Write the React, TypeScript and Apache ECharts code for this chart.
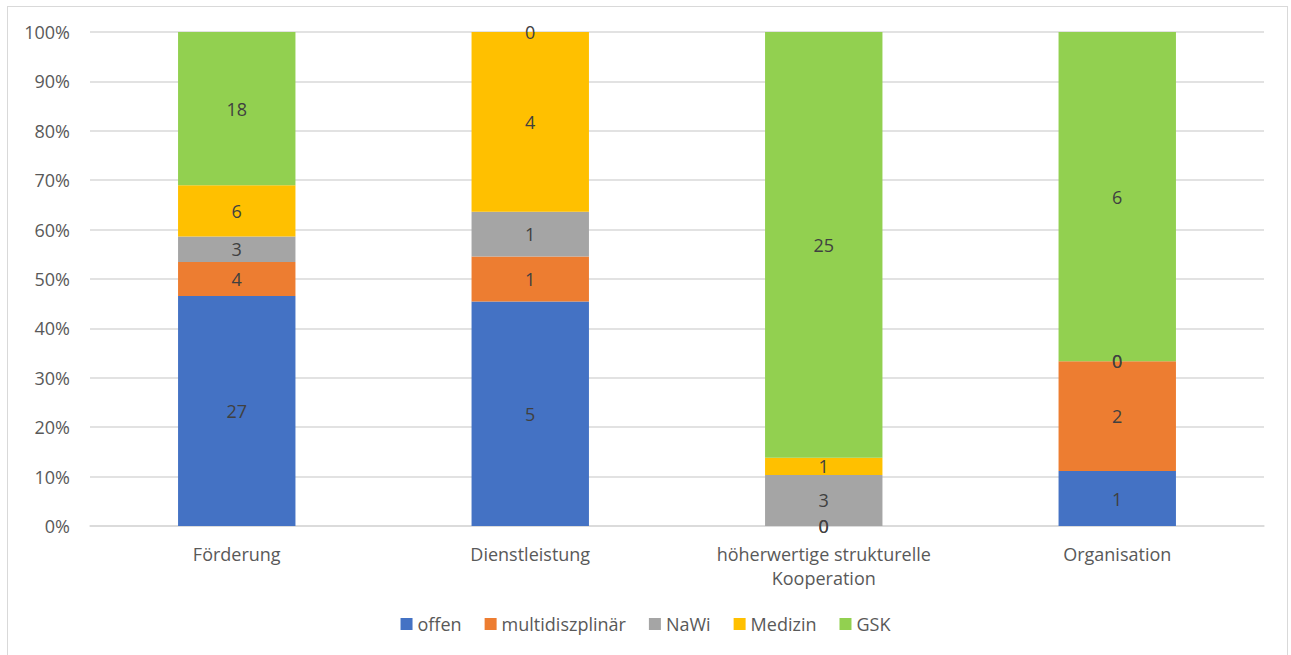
import React, { useEffect, useRef } from "react";
import * as echarts from "echarts";

// Categories on the x axis
const categories = [
  "Förderung",
  "Dienstleistung",
  "höherwertige strukturelle\nKooperation",
  "Organisation",
];

// Counts per group, one entry per category
const seriesNames = ["offen", "multidiszplinär", "NaWi", "Medizin", "GSK"];
const offen = [27, 5, 0, 1];
const multidiszplinaer = [4, 1, 0, 2];
const nawi = [3, 1, 3, 0];
const medizin = [6, 4, 1, 0];
const gsk = [18, 0, 25, 6];

const colors = ["#4472C4", "#ED7D31", "#A5A5A5", "#FFC000", "#92D050"];

const yTicks = [0, 10, 20, 30, 40, 50, 60, 70, 80, 90, 100];

const FONT = "'Open Sans', sans-serif";
const FS = 18;

export default function App() {
  const ref = useRef<HTMLDivElement>(null);

  useEffect(() => {
    if (!ref.current) return;
    const chart = echarts.init(ref.current, undefined, { renderer: "svg" });
    const raw = [offen, multidiszplinaer, nawi, medizin, gsk];
    const totals = categories.map((_, i) => raw.reduce((s, arr) => s + arr[i], 0));

    const series = raw.map((arr, si) => ({
      name: seriesNames[si],
      type: "bar",
      stack: "total",
      barWidth: "40%",
      itemStyle: { color: colors[si] },
      label: {
        show: true,
        position: "inside",
        color: "#404040",
        fontSize: FS,
        fontFamily: FONT,
        formatter: (p: any) => String(p.data.raw),
      },
      data: arr.map((v, ci) => ({ value: (v / totals[ci]) * 100, raw: v })),
    }));

    chart.setOption({
      animation: false,
      color: colors,
      textStyle: { fontFamily: FONT },
      grid: { left: 90, right: 27, top: 32, bottom: 129, containLabel: false },
      legend: {
        data: seriesNames,
        bottom: 17,
        left: "center",
        itemWidth: 12,
        itemHeight: 12,
        itemGap: 23,
        icon: "rect",
        textStyle: { color: "#595959", fontSize: FS, fontFamily: FONT },
      },
      xAxis: {
        type: "category",
        data: categories,
        axisLine: { lineStyle: { color: "#d9d9d9", width: 1.5 } },
        axisTick: { show: false },
        axisLabel: {
          color: "#595959",
          fontSize: FS,
          fontFamily: FONT,
          margin: 16,
          lineHeight: 24,
        },
      },
      yAxis: {
        type: "value",
        min: yTicks[0],
        max: yTicks[yTicks.length - 1],
        interval: 10,
        axisLine: { show: false },
        axisTick: { show: false },
        splitLine: { lineStyle: { color: "#d9d9d9", width: 1.5 } },
        axisLabel: {
          color: "#595959",
          fontSize: FS,
          fontFamily: FONT,
          margin: 20,
          formatter: "{value}%",
        },
      },
      series,
    });
    return () => chart.dispose();
  }, []);

  return (
    <div
      style={{
        position: "absolute",
        left: 7,
        top: 6,
        width: 1281,
        height: 680,
        border: "1.5px solid #d9d9d9",
        boxSizing: "border-box",
        background: "#fff",
      }}
    >
      <div
        ref={ref}
        style={{ position: "absolute", left: -8, top: -7, width: 1291, height: 655 }}
      />
    </div>
  );
}
